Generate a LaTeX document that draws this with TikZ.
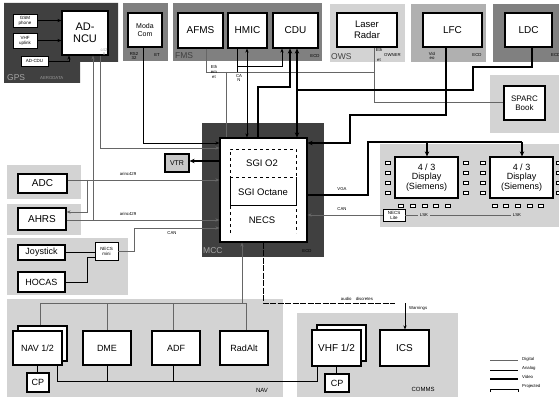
\documentclass[tikz,border=0pt]{standalone}
\usepackage{fontspec}
\setmainfont{Liberation Sans}
\usetikzlibrary{arrows.meta}
\definecolor{gdark}{HTML}{404040}
\definecolor{gmid}{HTML}{808080}
\definecolor{gmidl}{HTML}{B0B0B0}
\definecolor{glight}{HTML}{D3D3D3}
\definecolor{dig}{HTML}{666666}
\definecolor{vtrfill}{HTML}{C8C8C8}
\tikzset{
  box/.style={draw, line width=1.2pt, fill=white, inner sep=0pt, align=center, font=\fontsize{10}{11}\selectfont},
  tinybox/.style={box, line width=0.9pt, font=\fontsize{4.5}{5}\selectfont},
  tiny/.style={font=\fontsize{4.3}{4.7}\selectfont, inner sep=0pt, align=center},
  glabel/.style={font=\fontsize{8.5}{9}\selectfont, inner sep=0pt},
  digital/.style={draw=dig, line width=0.8pt},
  analog/.style={draw=black, line width=0.6pt},
  video/.style={draw=black, line width=1.6pt},
  arr/.style={-{Stealth[length=4pt,width=3.2pt]}},
  varr/.style={-{Stealth[length=5pt,width=4.5pt]}},
  sq/.style={draw, line width=0.8pt, fill=white},
}
\newcommand\bx[7][]{\node[box,#1,minimum width={(#5-#3)*1pt},minimum height={(#6-#4)*1pt}] (#2) at ({(#3+#5)/2},{(#4+#6)/2}) {#7};}
\begin{document}
\begin{tikzpicture}[x=1pt,y=-1pt]
\path[use as bounding box, fill=white] (0,0) rectangle (559,398);
% ---------- groups
\fill[gdark] (4,3) -- (118,3) -- (118,62) -- (80,62) -- (80,83) -- (4,83) -- cycle;
\fill[gmid] (123,3) rectangle (168,61);
\fill[gmid] (173,3) rectangle (322,61);
\fill[glight] (330,4) rectangle (405,62);
\fill[gmidl] (411,4) rectangle (486,62);
\fill[gmid] (493,4) rectangle (559,62);
\fill[glight] (490,75) rectangle (559,133);
\fill[gdark] (202,123) rectangle (324,257);
\fill[glight] (380,144) rectangle (559,227);
\fill[glight] (7,165) rectangle (81,199);
\fill[glight] (7,204) rectangle (81,235);
\fill[glight] (7,238) rectangle (128,295);
\fill[glight] (7,299) rectangle (283,397);
\fill[glight] (297,313) rectangle (458,397);
% ---------- group labels
\node[glabel, text=gray!70, anchor=west] (lgps) at (7,78) {GPS};
\node[tiny, text=gray!80, anchor=west] (laero) at (40,78) {AERODATA};
\node[tiny] (lrs) at (134,56) {RS2\\32};
\node[tiny] (let) at (157,55) {ET};
\node[glabel, text=gdark, anchor=west] (lfms) at (175,56) {FMS};
\node[tiny] (lecd1) at (315,56) {ECD};
\node[glabel, text=gdark, anchor=west] (lows) at (331,57) {OWS};
\node[tiny] (lvid) at (432,56) {Vid\\eo};
\node[tiny] (lecd2) at (477,55) {ECD};
\node[tiny, anchor=west] (lecd3) at (551,55) {ECD};
\node[glabel, text=gray!70, anchor=west] (lmcc) at (203,251) {MCC};
\node[tiny] (lecd4) at (307,251) {ECD};
\node[font=\fontsize{6}{7}\selectfont, inner sep=0pt] (lnav) at (262,390) {NAV};
\node[font=\fontsize{6}{7}\selectfont, inner sep=0pt] (lcomms) at (423,389) {COMMS};
% ---------- boxes
\bx[tinybox]{gsm}{13}{14}{37}{27}{GSM\\phone}
\bx[tinybox]{vhfup}{13}{33}{37}{48}{VHF\\uplink}
\bx[tinybox]{adcdu}{21}{56}{48}{66}{AD-CDU}
\bx[font=\fontsize{11}{12}\selectfont]{ncu}{62}{11}{108}{55}{AD-\\NCU}
\bx[font=\fontsize{7}{8}\selectfont]{moda}{128}{13}{162}{47}{Moda\\Com}
\bx{afms}{178}{13}{223}{48}{AFMS}
\bx{hmic}{228}{13}{267}{48}{HMIC}
\bx{cdu}{273}{13}{318}{48}{CDU}
\bx[font=\fontsize{9.5}{10.5}\selectfont]{laser}{337}{13}{397}{47}{Laser\\Radar}
\bx{lfc}{423}{13}{482}{47}{LFC}
\bx{ldc}{505}{13}{552}{47}{LDC}
\bx[font=\fontsize{8}{9}\selectfont]{sparc}{504}{86}{545}{120}{SPARC\\Book}
\bx{mccw}{220}{138}{307}{242}{}
\bx[fill=vtrfill,font=\fontsize{7}{8}\selectfont]{vtr}{165}{154}{189}{172}{VTR}
\bx[font=\fontsize{9}{9.5}\selectfont]{disp1}{395}{157}{458}{198}{4 / 3\\Display\\(Siemens)}
\bx[font=\fontsize{9}{9.5}\selectfont]{disp2}{490}{157}{553}{198}{4 / 3\\Display\\(Siemens)}
\bx[tinybox]{necslite}{383}{209}{405}{221}{NECS\\Lite}
\bx{adc}{18}{174}{67}{193}{ADC}
\bx{ahrs}{18}{208}{66}{230}{AHRS}
\bx[font=\fontsize{9}{10}\selectfont]{joy}{18}{245}{65}{260}{Joystick}
\bx[font=\fontsize{9}{10}\selectfont]{hocas}{18}{272}{65}{292}{HOCAS}
\bx[tinybox]{necsmini}{95}{242}{118}{260}{NECS\\mini}
\bx{navback}{18}{326}{67}{361}{}
\bx[font=\fontsize{9}{10}\selectfont]{navfront}{13}{331}{62}{365}{NAV 1/2}
\bx[font=\fontsize{9}{10}\selectfont]{dme}{83}{331}{131}{365}{DME}
\bx[font=\fontsize{9}{10}\selectfont]{adf}{152}{331}{200}{365}{ADF}
\bx[font=\fontsize{9}{10}\selectfont]{radalt}{220}{331}{268}{365}{RadAlt}
\bx[font=\fontsize{9}{10}\selectfont]{cp1}{27}{373}{49}{392}{CP}
\bx{vhfback}{317}{325}{366}{361}{}
\bx{vhf}{312}{330}{361}{366}{VHF 1/2}
\bx{ics}{380}{330}{429}{366}{ICS}
\bx[font=\fontsize{9}{10}\selectfont]{cp2}{325}{374}{349}{392}{CP}
% ---------- MCC interior
\draw[dashed, line width=0.7pt] (230,233) -- (230,149) -- (296,149) -- (296,233);
\draw[dashed, line width=0.7pt] (230,177) -- (296,177);
\draw[line width=0.8pt] (230,177) -- (230,205) -- (296,205) -- (296,177);
\node[font=\fontsize{9.5}{10}\selectfont, inner sep=0pt] (sgio2) at (262,163) {SGI O2};
\node[font=\fontsize{9.5}{10}\selectfont, inner sep=0pt] (sgioct) at (263,192) {SGI Octane};
\node[font=\fontsize{9.5}{10}\selectfont, inner sep=0pt] (necs) at (262,220) {NECS};
% ---------- display keys
\foreach \yy in {163,173,183,193} {
  \draw[sq] (385,\yy-1.5) rectangle (390,\yy+1.5);
  \draw[sq] (463,\yy-1.5) rectangle (468,\yy+1.5);
  \draw[sq] (480,\yy-1.5) rectangle (485,\yy+1.5);
  \draw[sq] (556,\yy-1.5) rectangle (561,\yy+1.5);
}
\foreach \xx in {400.5,412.5,424.5,435.5,447.5,494.5,505.5,517.5,529.5,540.5}
  \draw[sq] (\xx-2.5,204) rectangle (\xx+2.5,207);
% ---------- connectors: GPS
\draw[analog,arr] (gsm.east) -- (gsm.east -| ncu.west);
\draw[analog,arr] (vhfup.east) -- (vhfup.east -| ncu.west);
\draw[analog,arr] (adcdu.east) -| (69,0 |- ncu.south);
\node[tiny, text=gray!60] (lc42) at (104,52) {c42\\9};
% left side
\draw[digital,arr] (ahrs.east |- 0,220) -- (mccw.west |- 0,220);
\draw[digital,arr] (93,220) -- (93,0 |- ncu.south);
\draw[digital,arr] (100,0 |- ncu.south) |- (mccw.west |- 0,148);
\draw[analog,arr] (143,0 |- moda.south) |- (mccw.west |- 0,143);
\draw[digital,arr] (adc.east |- 0,180) -- (mccw.west |- 0,180);
\draw[digital,arr] (87,180) |- (ahrs.east |- 0,212);
\node[tiny] (larinc1) at (128,174) {arinc429};
\node[tiny] (larinc2) at (128,214) {arinc429};
\draw[analog] (joy.east) -- (joy.east -| necsmini.west);
\draw[analog] (hocas.east) -| (87,257) -- (necsmini.west |- 0,257);
\draw[digital,arr] (necsmini.east) -| (134,228) -- (mccw.west |- 0,228);
\node[tiny] (lcan1) at (172,233) {CAN};
\draw[video,varr] (mccw.west |- 0,161) -- (vtr.east |- 0,161);
% top
\draw[digital] (206,0 |- afms.south) |- (374,72);
\draw[digital] (226,72) -- (226,0 |- mccw.north);
\draw[digital] (374,0 |- laser.south) |- (sparc.west |- 0,102);
\draw[analog] (237,0 |- hmic.south) -- (237,72);
\draw[analog,arr] (237,66) -| (282,0 |- cdu.south);
\draw[analog,{Stealth[length=4pt,width=3.2pt]}-{Stealth[length=4pt,width=3.2pt]}] (247,0 |- hmic.south) -- (247,0 |- mccw.north);
\node[tiny] (leth1) at (214,72) {Eth\\ern\\et};
\node[tiny] (lcan2) at (239,78) {CA\\N};
\node[tiny] (leth2a) at (379,50) {Eth};
\node[tiny] (leth2b) at (379,60) {et};
\node[tiny, anchor=west] (lowner) at (384,55) {OWNER};
\draw[video,varr] (258,0 |- mccw.north) |- (290,87) -- (290,0 |- cdu.south);
\draw[video] (532,0 |- ldc.south) |- (473,67) |- (297,90);
\draw[video,varr] (297,90) -- (297,0 |- cdu.south);
\draw[video,varr] (297,90) -- (297,0 |- mccw.north);
\draw[video,varr] (446,0 |- lfc.south) |- (350,115) |- (mccw.east |- 0,143);
% right side
\draw[video] (mccw.east |- 0,195) -| (368,142) -- (522,142);
\draw[video,varr] (427,142) -- (427,0 |- disp1.north);
\draw[video,varr] (522,142) -- (522,0 |- disp2.north);
\node[tiny] (lvga) at (342,189) {VGA};
\draw[digital,arr] (necslite.west) -- (necslite.west -| mccw.east);
\node[tiny] (lcan3) at (342,209) {CAN};
\draw[digital] (necslite.east) -- (511,0 |- necslite.east);
\node[tiny, fill=glight, inner xsep=2pt] (llsk1) at (424,215) {LSK};
\node[tiny, fill=glight, inner xsep=2pt] (llsk2) at (517,215) {LSK};
% NAV
\draw[digital,arr] (242,303) -- (242,0 |- mccw.south);
\draw[digital] (40,0 |- navback.north) |- (246,303) -- (246,0 |- radalt.north);
\draw[digital] (107,303) -- (107,0 |- dme.north);
\draw[digital] (173,303) -- (173,0 |- adf.north);
\draw[analog] (57,0 |- navfront.south) |- (317,381) -- (317,0 |- vhf.south);
\draw[analog] (107,0 |- dme.south) -- (107,381);
\draw[analog] (173,0 |- adf.south) -- (173,381);
\draw[analog] (37,0 |- navfront.south) -- (37,0 |- cp1.north);
\draw[analog] (336,0 |- vhf.south) -- (336,0 |- cp2.north);
% audio / warnings
\draw[analog, dash pattern=on 6pt off 1.5pt] (263,0 |- mccw.south) |- (395,303);
\node[tiny] (laudio) at (357,299) {audio\quad discretes};
\coordinate (warn) at (405,303);
\draw[analog,arr] (warn) -- (warn |- ics.north);
\node[tiny, anchor=west] (lwarn) at (409,308) {Warnings};
% legend
\coordinate (lg1a) at (490,360); \coordinate (lg1b) at (518,360);
\coordinate (lg2a) at (490,370); \coordinate (lg2b) at (518,370);
\coordinate (lg3a) at (490,379); \coordinate (lg3b) at (518,379);
\coordinate (lg4a) at (490,389); \coordinate (lg4b) at (518,389);
\draw[digital] (lg1a) -- (lg1b);
\draw[analog] (lg2a) -- (lg2b);
\draw[video] (lg3a) -- (lg3b);
\draw[analog] ([yshift=-3pt]lg4a) -- (lg4a) -- (lg4b) -- ([yshift=-3pt]lg4b);
\node[tiny, anchor=west] (tdig) at (522,359) {Digital};
\node[tiny, anchor=west] (tana) at (522,368) {Analog};
\node[tiny, anchor=west] (tvid) at (522,377) {Video};
\node[tiny, anchor=west] (tproj) at (522,386) {Projected};
\end{tikzpicture}
\end{document}
